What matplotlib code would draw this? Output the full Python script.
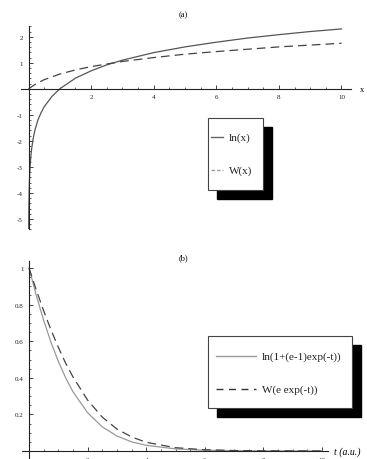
import numpy as np
import matplotlib
matplotlib.use('Agg')
import matplotlib.pyplot as plt
from matplotlib.ticker import MultipleLocator
from matplotlib.patches import Rectangle
from matplotlib.lines import Line2D

plt.rcParams['font.family'] = ['Liberation Serif', 'DejaVu Serif']
plt.rcParams['axes.unicode_minus'] = False

# (a) ln(x) and W(x)
x_ln = [0.004, 0.006, 0.01, 0.02, 0.035, 0.05, 0.075, 0.1, 0.15, 0.2, 0.3, 0.4, 0.5, 0.75,
        1.0, 1.5, 2.0, 2.5, 3.0, 4.0, 5.0, 6.0, 7.0, 8.0, 9.0, 10.0]
y_ln = [-5.52, -5.12, -4.61, -3.91, -3.35, -3.0, -2.59, -2.3, -1.9, -1.61, -1.2, -0.92, -0.69, -0.29,
        0.0, 0.41, 0.69, 0.92, 1.10, 1.39, 1.61, 1.79, 1.95, 2.08, 2.20, 2.30]
x_w = [0.0, 0.25, 0.5, 1.0, 1.5, 2.0, 3.0, 4.0, 5.0, 6.0, 7.0, 8.0, 9.0, 10.0]
y_w = [0.0, 0.20, 0.35, 0.567, 0.725, 0.853, 1.05, 1.20, 1.33, 1.43, 1.52, 1.61, 1.68, 1.75]

# (b) decay curves
t_vals = [0.0, 0.25, 0.5, 0.75, 1.0, 1.25, 1.5, 2.0, 2.5, 3.0, 3.5, 4.0, 5.0, 6.0, 7.0, 8.0, 10.0]
y_ln_b = [1.0, 0.849, 0.714, 0.594, 0.490, 0.400, 0.324, 0.209, 0.132, 0.082, 0.050, 0.031,
          0.0115, 0.0043, 0.0016, 0.0006, 0.0001]
y_w_b = [1.0, 0.879, 0.766, 0.662, 0.567, 0.480, 0.405, 0.278, 0.185, 0.120, 0.077, 0.0475,
         0.018, 0.0067, 0.0025, 0.0009, 0.0001]

xticks_a = [2, 4, 6, 8, 10]
yticks_a = [-5, -4, -3, -2, -1, 1, 2]
xticks_b = [2, 4, 6, 8, 10]
yticks_b = [0.2, 0.4, 0.6, 0.8, 1]

W, H = 367, 460
fig = plt.figure(figsize=(W / 100, H / 100), dpi=100)


def px(x, y):
    return x / W, 1 - y / H


def style_axes(ax, xt, yt, xminor, yminor):
    for s in ['top', 'right']:
        ax.spines[s].set_visible(False)
    ax.spines['left'].set_position(('data', 0))
    ax.spines['bottom'].set_position(('data', 0))
    for s in ['left', 'bottom']:
        ax.spines[s].set_linewidth(0.8)
        ax.spines[s].set_color('#222222')
    ax.set_xticks(xt)
    ax.set_yticks(yt)
    ax.set_xticklabels([str(v) for v in xt])
    ax.set_yticklabels([str(v) for v in yt])
    ax.xaxis.set_minor_locator(MultipleLocator(xminor))
    ax.yaxis.set_minor_locator(MultipleLocator(yminor))
    ax.tick_params(which='major', direction='in', length=3, width=0.6, labelsize=5,
                   colors='#222222', pad=4)
    ax.tick_params(which='minor', direction='in', length=1.5, width=0.5, colors='#222222')
    ax.patch.set_alpha(0)


def fake_legend(x0, y0, x1, y1, entries, off=9, fs=8):
    fig.patches.append(Rectangle(px(x0 + off, y1 + off), (x1 - x0) / W, (y1 - y0) / H,
                                 transform=fig.transFigure, facecolor='black',
                                 edgecolor='black', zorder=5))
    fig.patches.append(Rectangle(px(x0, y1), (x1 - x0) / W, (y1 - y0) / H,
                                 transform=fig.transFigure, facecolor='white',
                                 edgecolor='#444444', linewidth=0.8, zorder=6))
    for (lx0, lx1, ly, tx, label, color, ls) in entries:
        a, b = px(lx0, ly)
        c, _ = px(lx1, ly)
        fig.lines.append(Line2D([a, c], [b, b], transform=fig.transFigure, color=color,
                                linestyle=ls, linewidth=1.0, zorder=7))
        fig.text(*px(tx, ly), label, fontsize=fs, va='center', ha='left', zorder=8,
                 color='#222222')


# (a)
ax1 = fig.add_axes([0.0564, 0.4991, 0.8997, 0.4415])
ax1.set_xlim(-0.25, 10.3)
ax1.set_ylim(-5.4, 2.4)
ax1.plot(x_ln, y_ln, color='#555555', linewidth=0.9)
ax1.plot(x_w, y_w, color='#444444', linewidth=0.9, dashes=(7, 4))
style_axes(ax1, xticks_a, yticks_a, 0.5, 0.2)
fig.text(*px(183, 15), '(a)', fontsize=6, ha='center', va='center')
fig.text(*px(362, 90), 'x', fontsize=6, ha='center', va='center')
fake_legend(208, 119, 263, 191, [
    (211, 223, 138, 229, 'ln(x)', '#666666', '-'),
    (211, 223, 171, 229, 'W(x)', '#999999', (0, (2.5, 1.5))),
], fs=8)

# (b)
ax2 = fig.add_axes([0.0591, 0.0015, 0.8343, 0.4296])
ax2.set_xlim(-0.25, 10.2)
ax2.set_ylim(-0.04, 1.04)
ax2.plot(t_vals, y_ln_b, color='#999999', linewidth=0.9)
ax2.plot(t_vals, y_w_b, color='#444444', linewidth=0.9, dashes=(7, 4))
style_axes(ax2, xticks_b, yticks_b, 0.5, 0.05)
ax2.spines['left'].set_bounds(-0.04, 1.04)
fig.text(*px(347, 452), 't (a.u.)', fontsize=7, style='italic', ha='center', va='center')
fig.text(*px(183, 258), '(b)', fontsize=6, ha='center', va='center')
fake_legend(208, 337, 352, 409, [
    (216, 256, 357, 262, 'ln(1+(e-1)exp(-t))', '#999999', '-'),
    (216, 256, 390, 262, 'W(e exp(-t))', '#333333', (0, (5, 4))),
], fs=8)

fig.savefig('out.png', dpi=100)
